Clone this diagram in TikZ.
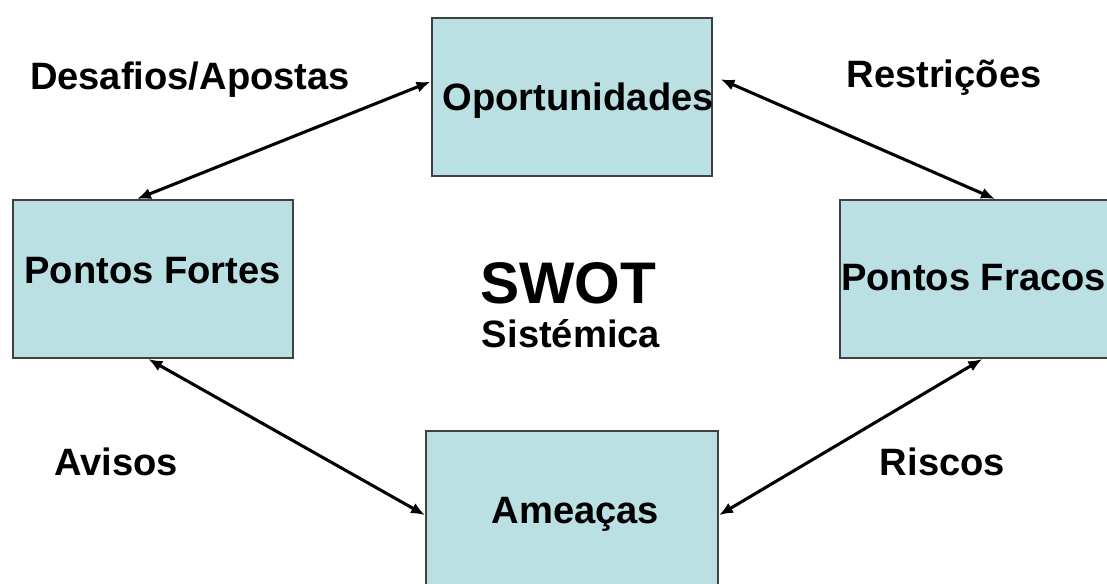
\documentclass[tikz,border=0pt]{standalone}
\usepackage{fontspec}
\setmainfont{Liberation Sans}
\usetikzlibrary{arrows.meta}

\tikzset{
  swotbox/.style={draw={rgb, 255:red, 64; green, 64; blue, 64 }, line width=1.5pt,
    fill={rgb, 255:red, 187; green, 224; blue, 227 }, fill opacity=1,
    minimum width=210pt, minimum height=118.5pt, inner sep=0pt,
    text height=20.5pt, text depth=0pt, font=\bfseries\fontsize{28.6}{34}\selectfont},
  swotlabel/.style={anchor=base, inner sep=0pt, font=\bfseries\fontsize{28.6}{34}\selectfont},
  swotarrow/.style={<->, >={Latex[length=10.5pt,width=8.5pt]}, line width=2.3pt},
}

\begin{document}
\begin{tikzpicture}[x=0.75pt,y=0.75pt,yscale=-1,xscale=1]
\useasboundingbox (0,0) rectangle (1107,583);

% Boxes
\node [swotbox] (opor) at (571.5,96.5) {\makebox[0pt]{\hspace*{10pt}Oportunidades}};
\node [swotbox, text depth=14.5pt] (fortes) at (152.5,279) {Pontos Fortes};
\node [swotbox, text depth=4pt] (fracos) at (979.5,279) {\makebox[0pt]{\hspace*{-9pt}Pontos Fracos}};
\node [swotbox, minimum width=219pt] (ameacas) at (572,510) {\hspace*{5pt}Ameaças};

% Center title
\node [swotlabel, font=\bfseries\fontsize{44}{52}\selectfont] (swot) at (568,303) {SWOT};
\node [swotlabel] (sistemica) at (571,347) {Sistémica};

% Corner labels
\node [swotlabel] (desafios) at (190,89) {Desafios/Apostas};
\node [swotlabel] (restricoes) at (944,87) {Restrições};
\node [swotlabel] (avisos) at (116,475) {Avisos};
\node [swotlabel] (riscos) at (942.5,475) {Riscos};

% Arrows
\draw [swotarrow] (opor.174) -- (fortes.101) ;
\draw [swotarrow] ([xshift=6pt]opor.7) -- (fracos.79) ;
\draw [swotarrow] (fortes.267) -- (ameacas.182) ;
\draw [swotarrow] (fracos.272) -- (ameacas.358) ;

\end{tikzpicture}
\end{document}
